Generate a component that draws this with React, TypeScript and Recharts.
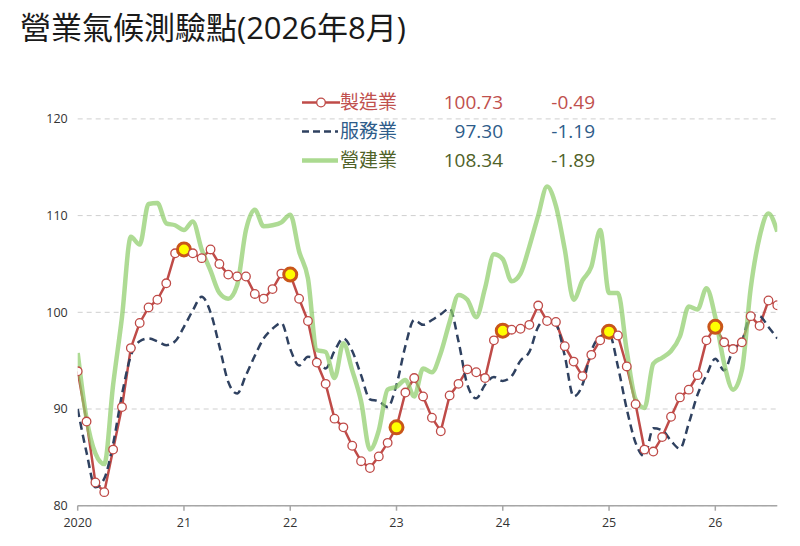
import React from 'react';
import { LineChart, Line, XAxis, YAxis, CartesianGrid } from 'recharts';

const chartTitle = '營業氣候測驗點(2026年8月)';
const seriesNames = ['製造業', '服務業', '營建業'];
const legendValues = ['100.73', '97.30', '108.34'];
const legendChanges = ['-0.49', '-1.19', '-1.89'];
const xTickPositions = [0, 12, 24, 36, 48, 60, 72];
const xTickLabels = ['2020', '21', '22', '23', '24', '25', '26'];
const yTicks = [80, 90, 100, 110, 120];
const highlightIdx = [12, 24, 36, 48, 60, 72];

const manufacturing = [
  93.9, 88.7, 82.4, 81.4, 85.8, 90.2, 96.3, 98.9, 100.5, 101.3,
  103.0, 106.1, 106.5, 106.1, 105.6, 106.5, 105.0, 103.9, 103.7, 103.7,
  101.9, 101.4, 102.4, 104.0, 103.9, 101.4, 99.1, 94.8, 92.6, 89.0,
  88.1, 86.2, 84.6, 83.9, 85.1, 86.5, 88.1, 91.7, 93.2, 91.3,
  89.1, 87.7, 91.4, 92.6, 94.1, 93.8, 93.2, 97.1, 98.1, 98.2,
  98.3, 98.7, 100.7, 99.1, 99.0, 96.5, 94.9, 93.4, 95.6, 97.1,
  98.0, 97.6, 94.4, 90.5, 85.8, 85.6, 87.1, 89.2, 91.2, 92.0,
  93.5, 97.1, 98.5, 96.9, 96.2, 96.9, 99.6, 98.6, 101.22, 100.73,
];

const services = [
  90.0, 85.5, 81.9, 82.8, 86.4, 91.5, 95.5, 97.0, 97.3, 97.0,
  96.6, 97.0, 98.5, 100.2, 101.6, 100.0, 96.5, 92.8, 91.6, 93.5,
  95.5, 97.3, 98.3, 98.9, 96.2, 94.5, 95.4, 95.2, 94.2, 96.0,
  97.3, 96.0, 93.5, 91.0, 90.8, 90.2, 92.5, 96.5, 99.2, 98.7,
  99.2, 99.8, 100.4, 97.0, 92.5, 91.1, 92.5, 93.3, 92.9, 93.4,
  95.0, 95.9, 98.5, 99.3, 98.8, 95.5, 91.3, 92.5, 96.0, 97.5,
  97.8, 94.4, 90.0, 86.5, 85.1, 88.0, 87.8, 86.7, 85.9, 88.5,
  91.5, 93.5, 95.2, 94.0, 96.1, 97.0, 99.7, 99.6, 98.49, 97.30,
];

const construction = [
  95.8, 89.0, 85.4, 84.3, 92.5, 99.5, 107.8, 107.0, 111.2, 111.3,
  109.2, 109.0, 108.5, 109.4, 106.5, 104.3, 102.0, 101.4, 102.8, 108.5,
  110.6, 108.9, 109.0, 109.3, 110.1, 106.3, 103.5, 96.1, 95.9, 93.2,
  96.8, 94.0, 90.8, 85.8, 87.8, 92.0, 92.3, 93.0, 91.3, 94.2,
  93.8, 95.8, 99.0, 101.8, 101.3, 99.5, 102.5, 106.0, 105.5, 103.2,
  104.0, 106.8, 110.0, 113.0, 111.0, 106.5, 101.3, 103.3, 104.7, 108.5,
  102.0, 102.0, 96.0, 91.0, 90.1, 94.7, 95.3, 96.0, 97.5, 100.6,
  100.3, 102.5, 99.5, 94.7, 92.0, 94.0, 102.5, 107.8, 110.23, 108.34,
];

const data = manufacturing.map((v, i) => ({
  i,
  mfg: v,
  svc: services[i],
  con: construction[i],
}));

const RED = '#bf4b48';
const BLUE = '#2f4160';
const GREEN = '#8fcd6b';
const textColors = ['#c0504d', '#2e5c8a', '#4f6228'];
const FONT = "'Open Sans', 'Noto Sans CJK TC', sans-serif";

const renderDot = (props: any) => {
  const { cx, cy, index } = props;
  if (cx == null || cy == null) return <g key={`d${index}`} />;
  if (highlightIdx.includes(index)) {
    return (
      <circle key={`d${index}`} cx={cx} cy={cy} r={6.5} fill="#ffff00" stroke="#c9561a" strokeWidth={3} />
    );
  }
  return <circle key={`d${index}`} cx={cx} cy={cy} r={4.3} fill="#ffffff" stroke={RED} strokeWidth={1.3} />;
};

const LegendIcon = ({ k }: { k: number }) => (
  <svg width={38} height={29} style={{ display: 'block' }}>
    {k === 0 && (
      <>
        <line x1={0} y1={14.5} x2={38} y2={14.5} stroke={RED} strokeWidth={2.5} />
        <circle cx={19} cy={14.5} r={4.3} fill="#fff" stroke={RED} strokeWidth={1.3} />
      </>
    )}
    {k === 1 && (
      <line x1={0} y1={14.5} x2={36} y2={14.5} stroke={BLUE} strokeWidth={2.5} strokeDasharray="7 4" />
    )}
    {k === 2 && (
      <line x1={0} y1={14.5} x2={36} y2={14.5} stroke={GREEN} strokeOpacity={0.75} strokeWidth={4.5} />
    )}
  </svg>
);

export default function App() {
  return (
    <div
      style={{
        position: 'absolute',
        left: 0,
        top: 0,
        width: 800,
        height: 546,
        background: '#ffffff',
        fontFamily: FONT,
        overflow: 'hidden',
      }}
    >
      <div
        style={{
          position: 'absolute',
          left: 20,
          top: 7,
          fontSize: 31,
          lineHeight: '40px',
          color: '#1a1a1a',
          whiteSpace: 'nowrap',
        }}
      >
        {chartTitle}
      </div>
      <LineChart
        width={800}
        height={546}
        data={data}
        margin={{ top: 118.9, right: 22.7, bottom: 10.3, left: 17.7 }}
        style={{ position: 'absolute', left: 0, top: 0 }}
      >
        <CartesianGrid vertical={false} strokeDasharray="5 4" stroke="#cfcfcf" />
        <XAxis
          type="number"
          dataKey="i"
          domain={[0, 79]}
          ticks={xTickPositions}
          tickFormatter={(v: number) => xTickLabels[xTickPositions.indexOf(v)]}
          axisLine={{ stroke: '#a6a6a6', strokeWidth: 1.5 }}
          tickLine={{ stroke: '#a6a6a6', strokeWidth: 1.5 }}
          tickSize={5}
          tickMargin={7}
          height={30}
          tick={{ fill: '#333333', fontSize: 12.5, fontFamily: FONT }}
          allowDataOverflow
        />
        <YAxis
          type="number"
          domain={[80, 120]}
          ticks={yTicks}
          axisLine={false}
          tickLine={false}
          width={60}
          tickMargin={4}
          tick={{ fill: '#333333', fontSize: 12.5, fontFamily: FONT }}
        />
        <Line
          type="linear"
          dataKey="mfg"
          stroke={RED}
          strokeWidth={2.5}
          dot={renderDot}
          activeDot={false}
          isAnimationActive={false}
        />
        <Line
          type="monotone"
          dataKey="svc"
          stroke={BLUE}
          strokeWidth={2.5}
          strokeDasharray="8 5"
          dot={false}
          activeDot={false}
          isAnimationActive={false}
        />
        <Line
          type="monotone"
          dataKey="con"
          stroke={GREEN}
          strokeOpacity={0.72}
          strokeWidth={4.5}
          dot={false}
          activeDot={false}
          isAnimationActive={false}
        />
      </LineChart>
      {seriesNames.map((name, k) => (
        <div
          key={name}
          style={{
            position: 'absolute',
            left: 302,
            top: 88 + k * 29.2,
            height: 29,
            width: 300,
            fontSize: 19,
            lineHeight: '29px',
            color: textColors[k],
          }}
        >
          <div style={{ position: 'absolute', left: 0, top: 0 }}>
            <LegendIcon k={k} />
          </div>
          <div style={{ position: 'absolute', left: 38, top: 0, whiteSpace: 'nowrap' }}>{name}</div>
          <div style={{ position: 'absolute', left: 120, width: 81, top: 0, textAlign: 'right' }}>
            {legendValues[k]}
          </div>
          <div style={{ position: 'absolute', left: 230, width: 63, top: 0, textAlign: 'right' }}>
            {legendChanges[k]}
          </div>
        </div>
      ))}
    </div>
  );
}
